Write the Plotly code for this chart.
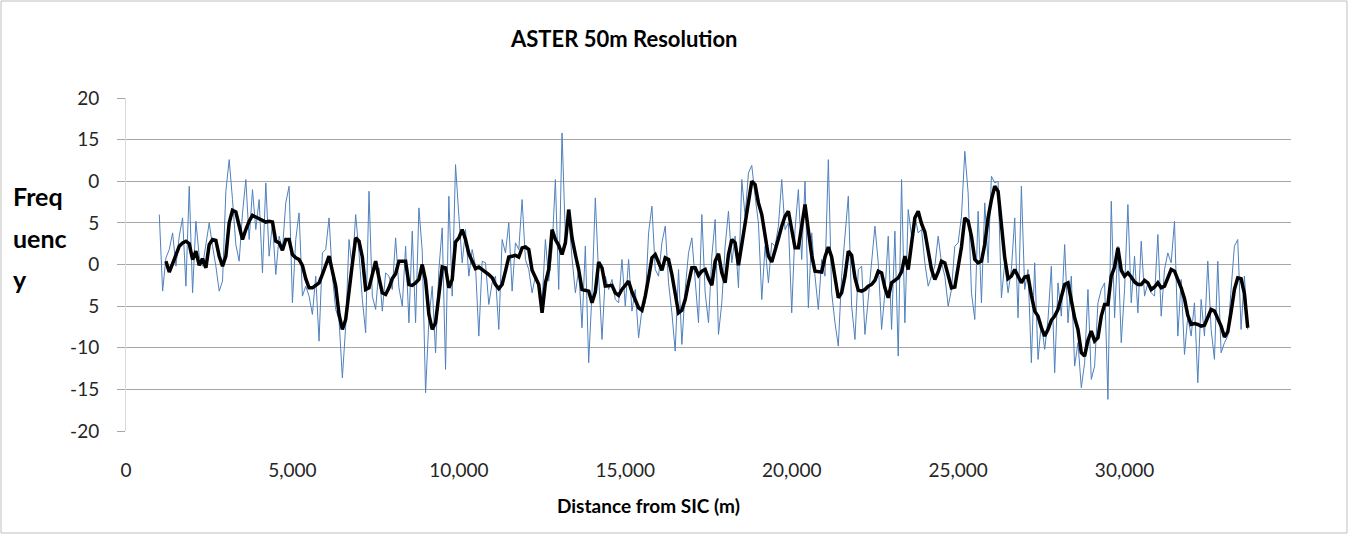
import plotly.graph_objects as go

# Profile samples every 100 m along the transect (metres from SIC)
blue_start, blue_step = 1000, 100
blue_values = [
    6.0, -3.2, 0.8, 1.8, 3.8, -0.2, 3.4, 5.6, -2.6, 9.4,
    -3.4, 5.2, 1.0, -0.2, 2.4, 5.0, 2.2, -0.2, -3.2, -2.0,
    8.8, 12.6, 7.8, 2.4, 0.4, 6.2, 10.2, 3.0, 9.0, 4.2,
    7.8, -1.0, 9.8, 1.0, 5.0, -1.2, 3.4, 1.8, 7.4, 9.4,
    -4.6, 3.0, 6.2, -3.8, -2.6, -3.8, -6.0, -1.4, -9.2, 1.4,
    1.8, 5.6, -1.4, -5.4, -6.6,
    -13.6, -7.4, 3.0, -0.6, 6.0, 1.4, -4.2, -8.2, 8.8, -3.8,
    -5.4, -0.4, -5.6, -1.0, -1.4, -3.0, 3.2, -2.8, -5.0, 2.2,
    -7.0, 4.0, -7.0, 6.8, 1.6, -15.4, -6.6, -2.6, -10.6, -0.6,
    4.4, -12.6, 8.2, -3.8, 12.0, 5.8, 0.2, 4.2, -1.4, 1.8,
    -0.2, -8.6, 0.4, 0.2, -4.8, -2.2, -1.4, -7.8, 3.0, 1.4,
    5.0, -3.2, 2.6, 1.8, 7.8,
    0.6, -0.6, -3.4, -1.4, -2.2, -4.6, 3.0, -2.0, 1.8, 10.2,
    -3.0, 15.8, 3.4, 5.8, 0.8, -3.4, -0.6, -7.6, 2.2, -11.8,
    -3.4, 8.0, -1.4, -9.0, -1.4, -3.0, -1.8, -4.2, -4.6, 0.6,
    -5.0, 0.6, -5.6, -3.0, -8.8, -5.4, -4.6, 3.8, 7.0, -0.6,
    -1.4, 2.6, 4.6, -2.2, -5.8, -10.4, -0.6, -9.6, -3.0, 1.4,
    3.2, -1.4, -7.0, 6.0, -3.4, -7.0,
    1.0, 5.4, -8.4, -4.6, 2.2, 6.4, 0.2, 3.4, -2.8, 10.2,
    5.8, 11.0, 11.9, 8.2, 5.0, -4.2, 2.2, -2.2, 2.6, 2.2,
    4.6, 10.2, 4.2, 5.0, -5.8, 4.2, 9.0, 0.6, 10.0, -5.2,
    3.8, -1.4, -5.4, 0.6, -1.4, 12.6, -3.4, -7.0, -9.8, -1.4,
    3.2, 8.2, -5.0, -9.0, -0.6, -0.2, -8.4, -3.8, 1.0, 4.6,
    0.2, -7.8, -3.4, 3.4, -7.8, 4.0, -11.0, 10.2,
    -7.0, 6.6, 3.4, 5.8, 3.8, 4.2, 0.2, -2.6, -1.4, -0.2,
    3.4, 0.2, -1.4, -5.0, -3.0, 2.2, 2.6, 5.8, 13.6, 8.6,
    -3.4, -6.6, 6.4, -4.6, 7.4, 0.2, 10.6, 9.8, 10.0, -4.0,
    0.2, -3.4, -0.6, 5.6, -6.4, 9.4, -3.0, -0.6, -11.8, 0.2,
    -11.4, -7.0, -10.2, -6.6, -0.2, -13.0, -2.2, -6.2, 2.4, -7.0,
    -1.4, -12.2, -9.4, -14.8, -11.8, -3.0,
    -13.8, -12.2, -4.6, -3.0, -2.2, -16.2, 7.6, -6.4, 2.2, -9.4,
    -3.0, 7.2, -4.6, 1.0, -5.8, 2.8, -3.8, -2.2, -3.4, -3.8,
    3.6, -6.2, -0.6, 1.4, 0.2, 5.2, -8.6, -1.8, -10.8, -6.2,
    -8.6, -4.6, -14.2, -4.2, -8.6, 0.4, -7.8, -11.4, 0.4, -10.6,
    -9.4, -8.6, -3.0, 2.2, 3.0, -7.8, -1.4, -7.8,
]

# Moving-average trend of the profile
trend_start, trend_step = 1200, 100
trend_values = [
    0.4, -0.9, 0.1, 1.2, 2.2, 2.6, 2.8, 2.5, 0.6, 1.6,
    -0.1, 0.7, -0.4, 2.4, 3.0, 2.9, 1.0, -0.2, 1.0, 5.0,
    6.5, 6.3, 4.4, 3.0, 4.2, 5.2, 5.9, 5.7, 5.5, 5.3,
    5.1, 5.2, 5.1, 2.8, 2.6, 1.7, 3.0, 3.0, 1.2, 0.8,
    0.6, -0.1, -1.7, -2.8, -2.8, -2.5, -2.2, -1.2, -0.2, 1.0,
    -0.8, -2.6,
    -6.0, -7.8, -6.6, -3.0, 0.1, 3.2, 2.8, 0.9, -3.0, -2.8,
    -1.0, 0.4, -1.6, -3.4, -3.6, -2.8, -1.7, -1.1, 0.4, 0.4,
    0.4, -2.4, -2.5, -2.2, -1.8, 0.0, -1.9, -6.0, -7.8, -7.0,
    -3.7, -0.3, -0.4, -2.8, -1.8, 2.7, 3.2, 4.2, 3.0, 1.3,
    0.4, -0.5, -0.3, -0.6, -0.8, -1.2, -1.6, -2.4, -2.9, -2.4,
    -0.8, 0.9, 1.0, 1.1, 0.9, 2.0,
    2.1, 1.8, -0.7, -1.6, -2.4, -5.8, -2.2, -0.6, 4.2, 3.0,
    2.3, 1.2, 2.6, 6.6, 3.2, 1.2, -0.6, -3.0, -3.1, -3.2,
    -4.6, -3.3, 0.3, -0.4, -2.6, -2.6, -2.5, -3.4, -3.7, -3.0,
    -2.5, -2.0, -3.3, -4.3, -5.2, -5.5, -3.8, -1.6, 0.8, 1.2,
    0.3, -0.7, 0.8, 0.6, -1.2, -3.8, -5.8, -5.5, -4.2, -2.2,
    -0.4, -0.4, -1.3, -0.8, -0.6, -1.7,
    -2.5, 0.4, 1.3, -1.0, -2.2, 1.2, 3.0, 2.6, -0.1, 2.4,
    5.0, 7.3, 10.0, 9.6, 7.4, 6.0, 3.4, 1.0, 0.3, 1.6,
    3.1, 4.6, 5.8, 6.4, 4.2, 2.0, 2.0, 4.8, 7.2, 4.1,
    1.1, -0.8, -0.9, -0.9, 0.9, 2.1, 0.9, -1.9, -4.0, -3.4,
    -1.4, 1.6, 1.1, -1.6, -3.1, -3.2, -3.0, -2.6, -2.4, -1.9,
    -0.8, -1.0, -2.8, -4.0, -2.2, -1.9, -1.6, -0.9,
    1.0, -0.6, 2.2, 5.6, 6.4, 4.9, 3.9, 1.6, -0.6, -1.8,
    -0.9, 0.4, 0.2, -1.3, -2.8, -2.7, -0.4, 2.1, 5.6, 5.2,
    3.4, 0.6, 0.2, 0.4, 2.4, 5.6, 7.8, 9.4, 8.8, 5.2,
    0.8, -1.7, -1.4, -0.6, -1.4, -2.2, -1.5, -1.4, -3.7, -5.6,
    -6.2, -7.6, -8.6, -7.8, -6.7, -6.2, -5.4, -3.9, -2.4, -2.2,
    -4.5, -6.4, -7.8, -10.6, -11.0, -9.1,
    -8.0, -9.2, -8.8, -6.2, -4.8, -4.8, -1.4, -0.3, 2.0, -0.7,
    -1.4, -1.0, -1.5, -2.1, -2.4, -2.4, -1.9, -2.2, -3.0, -2.7,
    -2.2, -2.8, -2.6, -1.5, -0.6, -0.8, -1.8, -2.8, -4.1, -6.1,
    -7.2, -7.1, -7.2, -7.4, -7.3, -6.2, -5.4, -5.6, -6.5, -7.4,
    -8.7, -8.1, -5.7, -3.0, -1.6, -1.7, -3.5, -7.6,
]

blue_x = [blue_start + i * blue_step for i in range(len(blue_values))]
trend_x = [trend_start + i * trend_step for i in range(len(trend_values))]

y_tick_vals = [20, 15, 10, 5, 0, -5, -10, -15, -20]
y_tick_text = ["20", "15", "0", "5", "0", "5", "-10", "-15", "-20"]
x_tick_vals = [0, 5000, 10000, 15000, 20000, 25000, 30000]

FONT = "Lato, 'Open Sans', sans-serif"

fig = go.Figure()
fig.add_trace(go.Scatter(
    x=blue_x, y=blue_values, mode="lines",
    line=dict(color="#4f81bd", width=1),
    hoverinfo="x+y", showlegend=False,
))
fig.add_trace(go.Scatter(
    x=trend_x, y=trend_values, mode="lines",
    line=dict(color="#000000", width=3.5),
    hoverinfo="x+y", showlegend=False,
))

# plot-area geometry in pixels
L, R, T, B = 126, 1291, 98, 431
W, H = 1350, 537
pw, ph = R - L, B - T


def px(xp):
    return (xp - L) / pw


def py(yp):
    return (B - yp) / ph


fig.update_layout(
    width=W, height=H,
    margin=dict(l=L, r=W - R, t=T, b=H - B, autoexpand=False),
    paper_bgcolor="white", plot_bgcolor="white",
    font=dict(family=FONT, color="#262626"),
    xaxis=dict(
        range=[0, 35000], tickvals=x_tick_vals, tickformat=",",
        showgrid=False, zeroline=False, showline=False,
        ticks="", tickfont=dict(size=19, color="#262626"),
        ticklabelstandoff=26,
    ),
    yaxis=dict(
        range=[-20, 20], tickvals=y_tick_vals, ticktext=y_tick_text,
        showgrid=True, gridcolor="#a6a6a6", gridwidth=1,
        zeroline=False, showline=True, linecolor="#d9d9d9", linewidth=1,
        ticks="outside", ticklen=8, tickcolor="#a6a6a6",
        tickfont=dict(size=19, color="#262626"),
        ticklabelstandoff=14,
    ),
    shapes=[
        dict(type="rect", xref="paper", yref="paper",
             x0=px(1), x1=px(1347), y0=py(533), y1=py(1),
             line=dict(color="#bfbfbf", width=1), fillcolor="rgba(0,0,0,0)",
             layer="below"),
    ],
    annotations=[
        dict(text="<b>ASTER 50m Resolution</b>", xref="paper", yref="paper",
             x=px(624), y=py(38), xanchor="center", yanchor="middle",
             showarrow=False, font=dict(size=22, color="#000000")),
        dict(text="<b>Distance from SIC (m)</b>", xref="paper", yref="paper",
             x=px(648), y=py(505), xanchor="center", yanchor="middle",
             showarrow=False, font=dict(size=19, color="#000000")),
        dict(text="<b>Freq</b>", xref="paper", yref="paper",
             x=px(11), y=py(196), xanchor="left", yanchor="middle",
             showarrow=False, font=dict(size=25, color="#000000")),
        dict(text="<b>uenc</b>", xref="paper", yref="paper",
             x=px(11), y=py(238), xanchor="left", yanchor="middle",
             showarrow=False, font=dict(size=25, color="#000000")),
        dict(text="<b>y</b>", xref="paper", yref="paper",
             x=px(11), y=py(279), xanchor="left", yanchor="middle",
             showarrow=False, font=dict(size=25, color="#000000")),
    ],
)

fig.write_html("out.html")
